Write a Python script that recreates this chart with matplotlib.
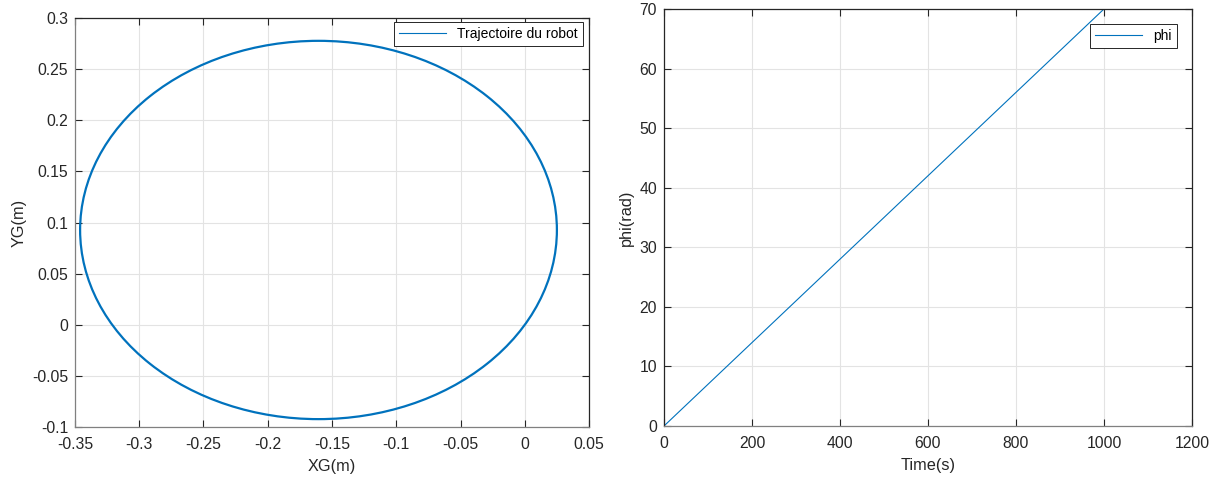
import numpy as np
import matplotlib
matplotlib.use("Agg")
import matplotlib.pyplot as plt
from matplotlib.patches import Ellipse
from matplotlib.lines import Line2D

# trajectory: a closed circle
traj_center = (-0.1605, 0.0927)   # XG, YG (m)
traj_radius = (0.1855, 0.185)     # half-width, half-height (m)

# phi vs time: straight line
time_s = [0, 1000]
phi_rad = [0, 70]

xg_ticks = [-0.35, -0.3, -0.25, -0.2, -0.15, -0.1, -0.05, 0, 0.05]
yg_ticks = [-0.1, -0.05, 0, 0.05, 0.1, 0.15, 0.2, 0.25, 0.3]
t_ticks = [0, 200, 400, 600, 800, 1000, 1200]
phi_ticks = [0, 10, 20, 30, 40, 50, 60, 70]

BLUE = "#0072BD"
TXT = "#262626"

plt.rcParams["font.family"] = ["Liberation Sans", "DejaVu Sans"]
plt.rcParams["axes.unicode_minus"] = False

fig = plt.figure(figsize=(12.19, 4.82), dpi=100)
ax1 = fig.add_axes([0.0615, 0.1141, 0.4217, 0.8485])
ax2 = fig.add_axes([0.5447, 0.1162, 0.4331, 0.8651])


def style(ax, xticks, yticks, left_col):
    ax.set_xticks(xticks)
    ax.set_yticks(yticks)
    ax.set_xticklabels(["%g" % v for v in xticks])
    ax.set_yticklabels(["%g" % v for v in yticks])
    ax.set_xlim(xticks[0], xticks[-1])
    ax.set_ylim(yticks[0], yticks[-1])
    ax.grid(True, color="#e3e3e3", linewidth=0.8)
    ax.set_axisbelow(True)
    ax.tick_params(direction="in", length=5, width=0.8, colors=TXT,
                   labelsize=11.3, top=True, right=True,
                   labeltop=False, labelright=False)
    ax.tick_params(axis="x", pad=7)
    ax.tick_params(axis="y", pad=5)
    ax.spines["left"].set_color(left_col)
    ax.spines["bottom"].set_color("#808080")
    for s in ["top", "right"]:
        ax.spines[s].set_color(TXT)
    for s in ax.spines.values():
        s.set_linewidth(0.9)


# left: robot trajectory
ax1.add_patch(Ellipse(traj_center, 2 * traj_radius[0], 2 * traj_radius[1],
                      fill=False, edgecolor=BLUE, linewidth=1.6))
style(ax1, xg_ticks, yg_ticks, "#808080")
ax1.set_xlabel("XG(m)", fontsize=11.7, color=TXT, labelpad=5)
ax1.set_ylabel("YG(m)", fontsize=11.7, color=TXT, labelpad=4)
h1 = Line2D([], [], color=BLUE, linewidth=0.8)
leg1 = ax1.legend([h1], ["Trajectoire du robot"], loc="upper right",
                  bbox_to_anchor=(0.988, 0.990), borderaxespad=0,
                  fontsize=10, fancybox=False, framealpha=1,
                  edgecolor=TXT, handlelength=3.4, borderpad=0.35)
leg1.get_frame().set_linewidth(0.7)

# right: phi over time
ax2.plot(time_s, phi_rad, color=BLUE, linewidth=0.8, label="phi")
style(ax2, t_ticks, phi_ticks, TXT)
ax2.set_xlabel("Time(s)", fontsize=11.7, color=TXT, labelpad=5)
ax2.set_ylabel("phi(rad)", fontsize=11.7, color=TXT, labelpad=4)
leg2 = ax2.legend(loc="upper right", bbox_to_anchor=(0.9716, 0.964),
                  borderaxespad=0, fontsize=10, fancybox=False, framealpha=1,
                  edgecolor=TXT, handlelength=3.4, borderpad=0.35)
leg2.get_frame().set_linewidth(0.7)

fig.savefig("out.png", dpi=100)
